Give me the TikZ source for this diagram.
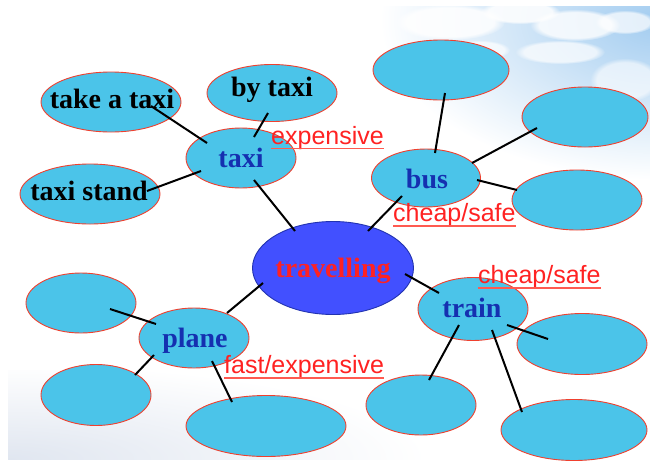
\documentclass[tikz,border=0pt]{standalone}
\usepackage{fontspec}
\setmainfont{Liberation Serif}
\newfontfamily\labfont{Liberation Sans}
\usetikzlibrary{shapes.geometric,fadings}
\definecolor{bubblefill}{HTML}{4BC4E9}
\definecolor{bubbleline}{HTML}{F0402E}
\definecolor{hubfill}{HTML}{4250FF}
\definecolor{hubline}{HTML}{2233B0}
\definecolor{txtblue}{HTML}{1530B0}
\definecolor{txtred}{HTML}{FF2222}
\definecolor{ulred}{HTML}{FF5A50}
\definecolor{skyblue}{HTML}{A2CCF0}
\definecolor{hazeblue}{HTML}{E0E6F0}
\begin{document}
\begin{tikzpicture}[x=1pt,y=-1pt,
  bubble/.style={ellipse, draw=bubbleline, line width=0.9pt, fill=bubblefill, inner sep=0pt},
  hub/.style={ellipse, draw=hubline, line width=0.9pt, fill=hubfill, inner sep=0pt},
  blacktxt/.style={font=\fontsize{28}{30}\selectfont\bfseries, text=black, inner sep=0pt, anchor=base},
  bluetxt/.style={font=\fontsize{28}{30}\selectfont\bfseries, text=txtblue, inner sep=0pt, anchor=base},
  hubtxt/.style={font=\fontsize{28}{30}\selectfont\bfseries, text=txtred, inner sep=0pt, anchor=base},
  labtxt/.style={font=\labfont\fontsize{25}{27}\selectfont, text=txtred, inner sep=0pt, anchor=base west},
  uline/.style={draw=ulred, line width=1.5pt},
  conn/.style={draw=black, line width=2pt},
  cloud/.style={fill=white, path fading=circle with fuzzy edge 20 percent}
]
\useasboundingbox (0,0) rectangle (650,461);
\fill[white] (0,0) rectangle (650,461);
% sky (top right)
\begin{scope}
  \clip (380,6) rectangle (650,180);
  \shade[inner color=skyblue, outer color=white] (660,20) ellipse (280 and 160);
  \fill[cloud, opacity=0.85] (450,22) ellipse (55 and 18);
  \fill[cloud, opacity=0.85] (520,12) ellipse (40 and 12);
  \fill[cloud, opacity=0.8] (575,25) ellipse (45 and 16);
  \fill[cloud, opacity=0.7] (625,22) ellipse (30 and 12);
  \fill[cloud, opacity=0.7] (560,52) ellipse (45 and 12);
  \fill[cloud, opacity=0.7] (480,50) ellipse (30 and 10);
  \fill[cloud, opacity=0.6] (625,80) ellipse (35 and 22);
\end{scope}
% haze (bottom left)
\begin{scope}
  \clip (8,370) rectangle (420,459);
  \shade[inner color=hazeblue, outer color=white] (8,459) ellipse (420 and 95);
\end{scope}

% bubbles
\node[bubble, minimum width=140, minimum height=60] (takeataxi) at (111,102) {};
\node[bubble, minimum width=130, minimum height=57] (bytaxi) at (272,93) {};
\node[bubble, minimum width=110, minimum height=60] (taxi) at (241,158) {};
\node[bubble, minimum width=140, minimum height=60] (taxistand) at (90,194) {};
\node[bubble, minimum width=136, minimum height=60] (bustop) at (441,70) {};
\node[bubble, minimum width=126, minimum height=60] (busright) at (585,117) {};
\node[bubble, minimum width=109, minimum height=58] (bus) at (426,178) {};
\node[bubble, minimum width=130, minimum height=60] (buslow) at (577,200) {};
\node[hub, minimum width=161, minimum height=93] (travelling) at (333,268) {};
\node[bubble, minimum width=110, minimum height=60] (planeleft) at (81,303) {};
\node[bubble, minimum width=110, minimum height=60] (plane) at (194,338) {};
\node[bubble, minimum width=110, minimum height=61] (planelow) at (96,395) {};
\node[bubble, minimum width=160, minimum height=61] (planebottom) at (266,426) {};
\node[bubble, minimum width=110, minimum height=63] (train) at (473,309) {};
\node[bubble, minimum width=130, minimum height=61] (trainright) at (582,344) {};
\node[bubble, minimum width=110, minimum height=60] (trainlow) at (421,405) {};
\node[bubble, minimum width=146, minimum height=61] (trainbottom) at (574,430) {};

% texts
\node[blacktxt] (takeataxiT) at (112,108) {take a taxi};
\node[blacktxt] (bytaxiT) at (272,96) {by taxi};
\node[bluetxt] (taxiT) at (241,167) {taxi};
\node[blacktxt] (taxistandT) at (89,200) {taxi stand};
\node[bluetxt] (busT) at (427,188) {bus};
\node[hubtxt] (travellingT) at (333,277) {travelling};
\node[bluetxt] (planeT) at (195,347) {plane};
\node[bluetxt] (trainT) at (472,317) {train};

% connectors
\draw[conn] ([shift={(40,4)}]takeataxi.center) -- ([shift={(-34,-15)}]taxi.center);
\draw[conn] ([shift={(-4,20)}]bytaxi.center) -- ([shift={(13,-21)}]taxi.center);
\draw[conn] ([shift={(57,-3)}]taxistand.center) -- ([shift={(-40,13)}]taxi.center);
\draw[conn] ([shift={(13,22)}]taxi.center) -- ([shift={(-38,-37)}]travelling.center);
\draw[conn] ([shift={(4,23)}]bustop.center) -- ([shift={(9,-25)}]bus.center);
\draw[conn] ([shift={(-48,11)}]busright.center) -- ([shift={(46,-15)}]bus.center);
\draw[conn] ([shift={(-60,-10)}]buslow.center) -- ([shift={(51,2)}]bus.center);
\draw[conn] ([shift={(-24,18)}]bus.center) -- ([shift={(35,-37)}]travelling.center);
\draw[conn] ([shift={(72,6)}]travelling.center) -- ([shift={(-34,-16)}]train.center);
\draw[conn] ([shift={(29,6)}]planeleft.center) -- ([shift={(-38,-14)}]plane.center);
\draw[conn] ([shift={(33,-25)}]plane.center) -- ([shift={(-70,15)}]travelling.center);
\draw[conn] ([shift={(39,-20)}]planelow.center) -- ([shift={(-40,17)}]plane.center);
\draw[conn] ([shift={(-34,-24)}]planebottom.center) -- ([shift={(18,23)}]plane.center);
\draw[conn] ([shift={(34,16)}]train.center) -- ([shift={(-34,-5)}]trainright.center);
\draw[conn] ([shift={(-14,16)}]train.center) -- ([shift={(8,-25)}]trainlow.center);
\draw[conn] ([shift={(19,21)}]train.center) -- ([shift={(-52,-18)}]trainbottom.center);

% red labels
\node[labtxt] (expL) at (271,144) {expensive};
\draw[uline] ([yshift=-4.5pt]expL.base west) -- ([yshift=-4.5pt]expL.base east);
\node[labtxt] (busL) at (393,221) {cheap/safe};
\draw[uline] ([yshift=-5pt]busL.base west) -- ([yshift=-5pt]busL.base east);
\node[labtxt] (trainL) at (478,283) {cheap/safe};
\draw[uline] ([yshift=-5pt]trainL.base west) -- ([yshift=-5pt]trainL.base east);
\node[labtxt] (planeL) at (224,373) {fast/expensive};
\draw[uline] ([yshift=-5pt]planeL.base west) -- ([yshift=-5pt]planeL.base east);
\end{tikzpicture}
\end{document}
